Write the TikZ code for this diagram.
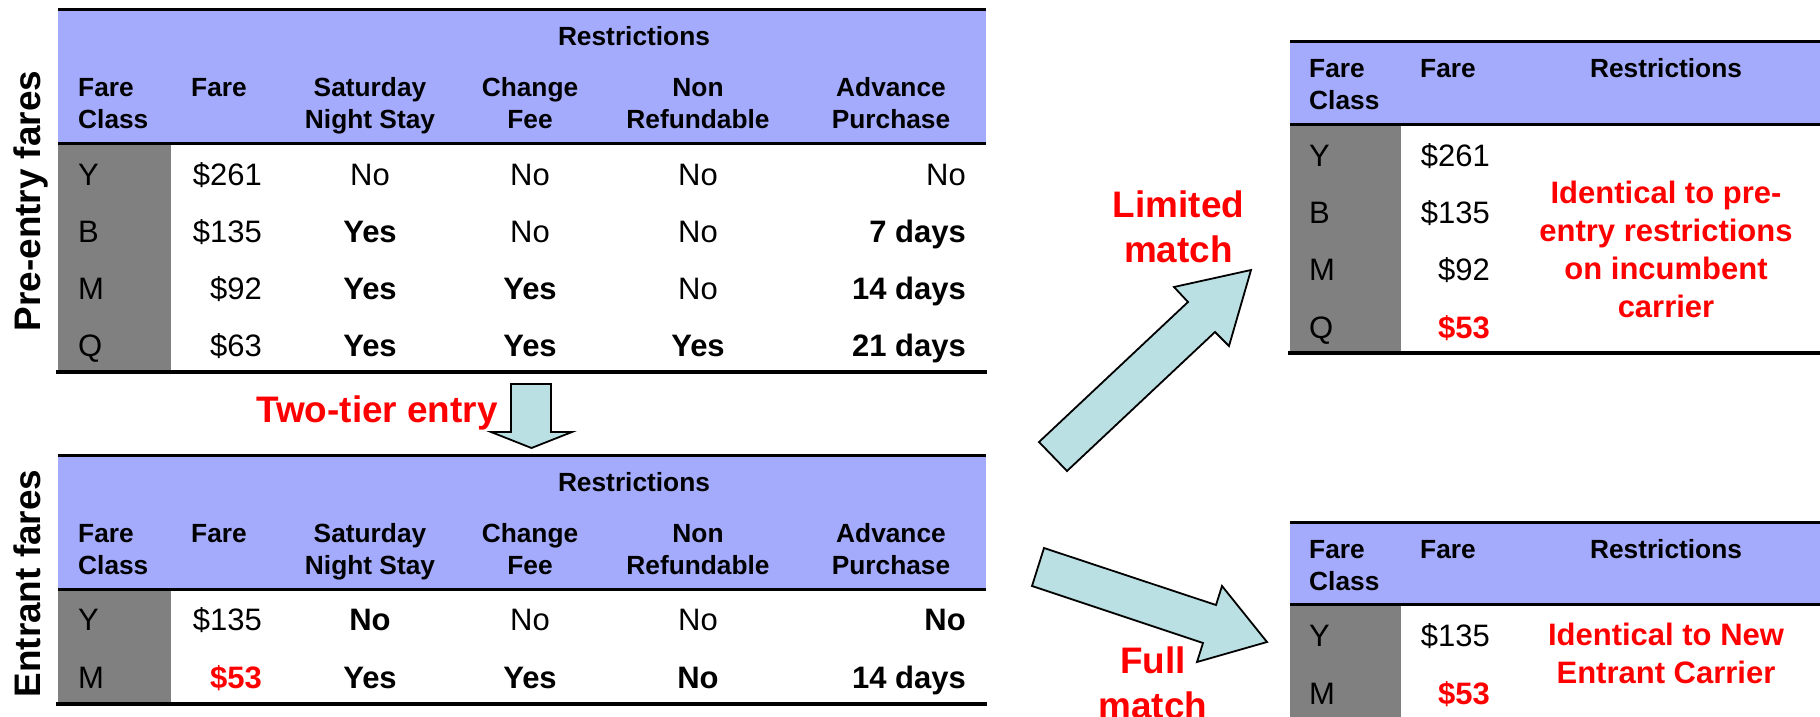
\documentclass[tikz,border=0pt]{standalone}
\usepackage{fontspec}
\setmainfont{Liberation Sans}
\definecolor{hdrblue}{RGB}{164,170,252}
\definecolor{greycol}{RGB}{128,128,128}
\definecolor{arrfill}{RGB}{187,224,227}
\definecolor{redtxt}{RGB}{255,0,0}
\begin{document}
\begin{tikzpicture}[x=1pt,y=-1pt,
  hdr/.style={font=\fontsize{26.3}{31.6}\selectfont\bfseries, inner sep=0pt, anchor=base, align=center},
  hdrl/.style={hdr, anchor=base west, align=left},
  cell/.style={font=\fontsize{31}{37}\selectfont, inner sep=0pt, anchor=base},
  bcell/.style={font=\fontsize{31}{37}\selectfont\bfseries, inner sep=0pt, anchor=base},
  redcell/.style={bcell, text=redtxt},
  note/.style={font=\fontsize{31}{38}\selectfont\bfseries, text=redtxt, inner sep=0pt, anchor=base, align=center},
  big/.style={font=\fontsize{36.9}{45}\selectfont\bfseries, inner sep=0pt, anchor=base, align=center},
  bigred/.style={big, text=redtxt},
  side/.style={big, rotate=90},
  thinrule/.style={line width=3pt},
  thickrule/.style={line width=4.5pt},
  blockarrow/.style={draw=black, line width=1.8pt, fill=arrfill, line join=miter}
]
\useasboundingbox (0,0) rectangle (1820,717);

% ---------- Pre-entry table ----------
\fill[hdrblue] (58,9.5) rectangle (986,143);
\fill[greycol] (58,143) rectangle (171,372);
\draw[thinrule] (58,9.5) -- (986,9.5);
\draw[thinrule] (58,143) -- (986,143);
\draw[thickrule] (56,372) -- (987,372);

\node[hdr] (pRes) at (634,45.5) {Restrictions};
\node[hdrl] (pFC) at (78,128.3) {Fare\\Class};
\node[hdrl] (pF) at (191,96.7) {Fare};
\node[hdr] (pSat) at (370,128.3) {Saturday\\Night Stay};
\node[hdr] (pChg) at (530,128.3) {Change\\Fee};
\node[hdr] (pNon) at (698,128.3) {Non\\Refundable};
\node[hdr] (pAdv) at (891,128.3) {Advance\\Purchase};

% rows
\node[cell, anchor=base west] (pY) at (78,185) {Y};
\node[cell, anchor=base west] (pB) at (78,242) {B};
\node[cell, anchor=base west] (pM) at (78,299) {M};
\node[cell, anchor=base west] (pQ) at (78,356) {Q};

\node[cell, anchor=base east] (pYf) at (262,185) {\$261};
\node[cell, anchor=base east] (pBf) at (262,242) {\$135};
\node[cell, anchor=base east] (pMf) at (262,299) {\$92};
\node[cell, anchor=base east] (pQf) at (262,356) {\$63};

\node[cell] (pYs) at (370,185) {No};
\node[bcell] (pBs) at (370,242) {Yes};
\node[bcell] (pMs) at (370,299) {Yes};
\node[bcell] (pQs) at (370,356) {Yes};

\node[cell] (pYc) at (530,185) {No};
\node[cell] (pBc) at (530,242) {No};
\node[bcell] (pMc) at (530,299) {Yes};
\node[bcell] (pQc) at (530,356) {Yes};

\node[cell] (pYn) at (698,185) {No};
\node[cell] (pBn) at (698,242) {No};
\node[cell] (pMn) at (698,299) {No};
\node[bcell] (pQn) at (698,356) {Yes};

\node[cell, anchor=base east] (pYa) at (966,185) {No};
\node[bcell, anchor=base east] (pBa) at (966,242) {7 days};
\node[bcell, anchor=base east] (pMa) at (966,299) {14 days};
\node[bcell, anchor=base east] (pQa) at (966,356) {21 days};

\node[side] (pSide) at (40,201) {Pre-entry fares};

% ---------- Two-tier entry ----------
\node[bigred] (twotier) at (377,422) {Two-tier entry};
\draw[blockarrow] (511,384) -- (551,384) -- (551,432) -- (572,432) -- (531.5,448) -- (491,432) -- (511,432) -- cycle;

% ---------- Entrant table ----------
\fill[hdrblue] (58,455) rectangle (986,589);
\fill[greycol] (58,589) rectangle (171,704);
\draw[thinrule] (58,455) -- (986,455);
\draw[thinrule] (58,589) -- (986,589);
\draw[thickrule] (56,704) -- (987,704);

\node[hdr] (eRes) at (634,491) {Restrictions};
\node[hdrl] (eFC) at (78,574) {Fare\\Class};
\node[hdrl] (eF) at (191,542.5) {Fare};
\node[hdr] (eSat) at (370,574) {Saturday\\Night Stay};
\node[hdr] (eChg) at (530,574) {Change\\Fee};
\node[hdr] (eNon) at (698,574) {Non\\Refundable};
\node[hdr] (eAdv) at (891,574) {Advance\\Purchase};

\node[cell, anchor=base west] (eY) at (78,630) {Y};
\node[cell, anchor=base west] (eM) at (78,688) {M};
\node[cell, anchor=base east] (eYf) at (262,630) {\$135};
\node[redcell, anchor=base east] (eMf) at (262,688) {\$53};
\node[bcell] (eYs) at (370,630) {No};
\node[bcell] (eMs) at (370,688) {Yes};
\node[cell] (eYc) at (530,630) {No};
\node[bcell] (eMc) at (530,688) {Yes};
\node[cell] (eYn) at (698,630) {No};
\node[bcell] (eMn) at (698,688) {No};
\node[bcell, anchor=base east] (eYa) at (966,630) {No};
\node[bcell, anchor=base east] (eMa) at (966,688) {14 days};

\node[side] (eSide) at (40,583.5) {Entrant fares};

% ---------- Arrows to right ----------
\draw[blockarrow] (1039,442) -- (1188,302) -- (1174,287) -- (1251,270) -- (1229,346) -- (1215,332) -- (1067,471) -- cycle;
\node[bigred] (limited) at (1178.5,262) {Limited\\match};

\draw[blockarrow] (1044,548) -- (1216,605) -- (1222,586) -- (1267,642) -- (1197,662) -- (1203,643) -- (1032,586) -- cycle;
\node[bigred] (full) at (1153,718) {Full\\match};

% ---------- Limited match table ----------
\fill[hdrblue] (1290,41.5) rectangle (1820,124);
\fill[greycol] (1290,124) rectangle (1401,353);
\draw[thinrule] (1290,41.5) -- (1820,41.5);
\draw[thinrule] (1290,124) -- (1820,124);
\draw[thickrule] (1288,353) -- (1820,353);

\node[hdrl] (lFC) at (1309,109.4) {Fare\\Class};
\node[hdrl] (lF) at (1420,77.4) {Fare};
\node[hdr] (lRes) at (1666,77.4) {Restrictions};

\node[cell, anchor=base west] (lY) at (1309,166) {Y};
\node[cell, anchor=base west] (lB) at (1309,223) {B};
\node[cell, anchor=base west] (lM) at (1309,280) {M};
\node[cell, anchor=base west] (lQ) at (1309,338) {Q};
\node[cell, anchor=base east] (lYf) at (1490,166) {\$261};
\node[cell, anchor=base east] (lBf) at (1490,223) {\$135};
\node[cell, anchor=base east] (lMf) at (1490,280) {\$92};
\node[redcell, anchor=base east] (lQf) at (1490,338) {\$53};
\node[note] (lNote) at (1666,317) {Identical to pre-\\entry restrictions\\on incumbent\\carrier};

% ---------- Full match table ----------
\fill[hdrblue] (1290,522) rectangle (1820,604);
\fill[greycol] (1290,604) rectangle (1401,717);
\draw[thinrule] (1290,522) -- (1820,522);
\draw[thinrule] (1290,604) -- (1820,604);

\node[hdrl] (fFC) at (1309,590) {Fare\\Class};
\node[hdrl] (fF) at (1420,558) {Fare};
\node[hdr] (fRes) at (1666,558) {Restrictions};

\node[cell, anchor=base west] (fY) at (1309,646) {Y};
\node[cell, anchor=base west] (fM) at (1309,704) {M};
\node[cell, anchor=base east] (fYf) at (1490,646) {\$135};
\node[redcell, anchor=base east] (fMf) at (1490,704) {\$53};
\node[note] (fNote) at (1666,683) {Identical to New\\Entrant Carrier};
\end{tikzpicture}
\end{document}
